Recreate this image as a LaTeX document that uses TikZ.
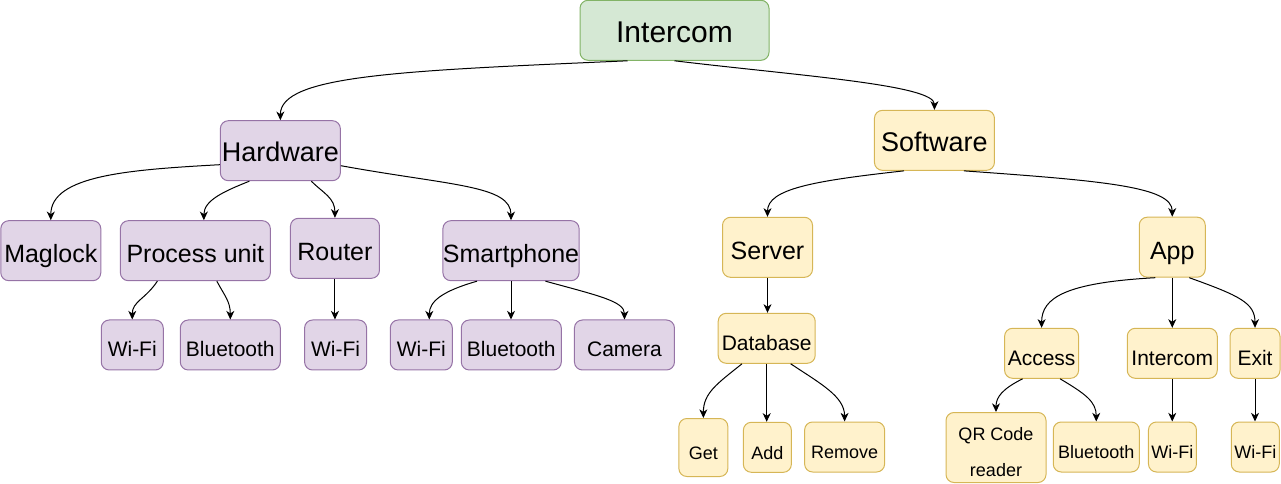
\documentclass[tikz,border=0pt]{standalone}
\usepackage{fontspec}
\setmainfont{Liberation Sans}
\usetikzlibrary{arrows.meta,calc}

\definecolor{rootfill}{HTML}{D5E8D4}
\definecolor{rootline}{HTML}{82B366}
\definecolor{hwfill}{HTML}{E1D5E7}
\definecolor{hwline}{HTML}{9673A6}
\definecolor{swfill}{HTML}{FFF2CC}
\definecolor{swline}{HTML}{D6B656}

\tikzset{
  box/.style={rectangle, rounded corners=6pt, line width=0.75pt, inner sep=0pt, align=center},
  rootbox/.style={box, fill=rootfill, draw=rootline},
  hwbox/.style={box, fill=hwfill, draw=hwline},
  swbox/.style={box, fill=swfill, draw=swline},
  boxsize/.style 2 args={minimum width=#1*0.75pt, minimum height=#2*0.75pt},
  lvlzero/.style={font=\fontsize{22.5}{27}\selectfont, text height=17.9pt, text depth=0pt},
  lvlone/.style={font=\fontsize{20.25}{24}\selectfont, text height=16.5pt, text depth=0pt},
  lvltwo/.style={font=\fontsize{18.75}{22}\selectfont, text height=17.8pt, text depth=0pt},
  lvlthree/.style={font=\fontsize{15.75}{19}\selectfont, text height=17.7pt, text depth=0pt},
  lvlfour/.style={font=\fontsize{13.5}{27}\selectfont, text height=17.7pt, text depth=0pt},
  qrtext/.style={font=\fontsize{13.5}{27}\selectfont},
  link/.style={-{Stealth[length=6.5pt,width=6pt,inset=2pt]}, line width=0.75pt},
}

\begin{document}
\begin{tikzpicture}[x=0.75pt, y=-0.75pt]
  \useasboundingbox (0,0) rectangle (1281,484);

  \node[rootbox, lvlzero, boxsize={189}{60}] (root) at (674.5,30.3) {Intercom};

  \begin{scope}
    % hardware branch
    \node[hwbox, lvlone, boxsize={120}{60}] (hard) at (280.35,150.7) {Hardware};

    \node[hwbox, lvltwo, boxsize={100}{60}] (mag) at (50.8,250.7) {Maglock};
    \node[hwbox, lvltwo, boxsize={150}{60}] (proc) at (195.35,250.7) {Process unit};
    \node[hwbox, lvltwo, boxsize={89}{60}] (router) at (334.95,248.3) {Router};
    \node[hwbox, lvltwo, boxsize={136}{60}] (smart) at (511,250.7) {Smartphone};

    \node[hwbox, lvlthree, boxsize={62}{50}] (pwifi) at (132.25,345) {Wi-Fi};
    \node[hwbox, lvlthree, boxsize={100}{50}] (pblue) at (230.3,345) {Bluetooth};
    \node[hwbox, lvlthree, boxsize={62}{50}] (rwifi) at (335.6,345) {Wi-Fi};
    \node[hwbox, lvlthree, boxsize={62}{50}] (swifi) at (421.3,345) {Wi-Fi};
    \node[hwbox, lvlthree, boxsize={100}{50}] (sblue) at (511.3,345) {Bluetooth};
    \node[hwbox, lvlthree, boxsize={100}{50}] (cam) at (624.45,345) {Camera};
  \end{scope}

  \begin{scope}
    % software branch
    \node[swbox, lvlone, boxsize={120}{60}] (soft) at (934.45,140.35) {Software};

    \node[swbox, lvltwo, boxsize={90}{60}] (server) at (767.5,247.3) {Server};
    \node[swbox, lvltwo, boxsize={66}{60}] (app) at (1172.25,247.2) {App};

    \node[swbox, lvlthree, boxsize={97}{50}] (db) at (766.7,338.3) {Database};
    \node[swbox, lvlthree, boxsize={74}{50}] (access) at (1041.6,353.3) {Access};
    \node[swbox, lvlthree, boxsize={90}{50}] (appint) at (1172.25,353.3) {Intercom};
    \node[swbox, lvlthree, boxsize={50}{50}] (exit) at (1255,353.3) {Exit};

    \node[swbox, lvlfour, boxsize={49}{58}] (get) at (703.35,447.5) {Get};
    \node[swbox, lvlfour, boxsize={48}{50}] (add) at (767.35,447.3) {Add};
    \node[swbox, lvlfour, boxsize={80}{50}] (rem) at (844.6,447) {Remove};
    \node[swbox, qrtext, boxsize={100}{70}] (qr) at (996,447.5) {\rule{0pt}{16pt}QR Code\\reader};
    \node[swbox, lvlfour, boxsize={86}{50}] (ablue) at (1096.25,447) {Bluetooth};
    \node[swbox, lvlfour, boxsize={48}{50}] (iwifi) at (1172.45,447) {Wi-Fi};
    \node[swbox, lvlfour, boxsize={48}{50}] (ewifi) at (1255.25,447) {Wi-Fi};
  \end{scope}

  % Arrows from the root
  \draw[link] ($(root.south)+(-47,0)$) .. controls +(-227,10) and +(0,-45) .. (hard.north);
  \draw[link] (root.south) .. controls +(125,15) and +(0,-25) .. (soft.north);

  % Arrows below hardware
  \draw[link] ($(hard.west)+(0,14)$) .. controls +(-90,5) and +(0,-45) .. (mag.north);
  \draw[link] ($(hard.south)+(-31,0)$) .. controls +(-25,10) and +(0,-20) .. ($(proc.north)+(8.5,0)$);
  \draw[link] ($(hard.south)+(31,0)$) .. controls +(12,12) and +(0,-20) .. (router.north);
  \draw[link] ($(hard.east)+(0,15)$) .. controls +(110,20) and +(0,-35) .. (smart.north);

  \draw[link] ($(proc.south)+(-38,0)$) .. controls +(-12,18) and +(0,-18) .. (pwifi.north);
  \draw[link] ($(proc.south)+(21.5,0)$) .. controls +(8,15) and +(0,-18) .. (pblue.north);
  \draw[link] (router.south) -- (router.south |- rwifi.north);
  \draw[link] ($(smart.south)+(-34,0)$) .. controls +(-35,10) and +(0,-18) .. ($(swifi.north)+(8,0)$);
  \draw[link] (smart.south) -- (smart.south |- sblue.north);
  \draw[link] ($(smart.south)+(34.5,0)$) .. controls +(55,15) and +(0,-18) .. (cam.north);

  % Arrows below software
  \draw[link] ($(soft.south)+(-30.5,0)$) .. controls +(-90,10) and +(0,-28) .. (server.north);
  \draw[link] ($(soft.south)+(29.4,0)$) .. controls +(140,10) and +(0,-30) .. (app.north);

  \draw[link] (server.south) -- (server.south |- db.north);
  \draw[link] ($(db.south)+(-24.7,0)$) .. controls +(-25,20) and +(0,-25) .. (get.north);
  \draw[link] (db.south) -- (db.south |- add.north);
  \draw[link] ($(db.south)+(24,0)$) .. controls +(30,20) and +(0,-25) .. (rem.north);

  \draw[link] ($(app.south)+(-17,0)$) .. controls +(-90,5) and +(0,-30) .. (access.north);
  \draw[link] (app.south) -- (app.south |- appint.north);
  \draw[link] ($(app.south)+(17,0)$) .. controls +(50,18) and +(0,-25) .. (exit.north);

  \draw[link] ($(access.south)+(-19,0)$) .. controls +(-20,10) and +(0,-15) .. (qr.north);
  \draw[link] ($(access.south)+(18.5,0)$) .. controls +(25,15) and +(0,-20) .. (ablue.north);
  \draw[link] (appint.south) -- (appint.south |- iwifi.north);
  \draw[link] (exit.south) -- (exit.south |- ewifi.north);

\end{tikzpicture}
\end{document}
